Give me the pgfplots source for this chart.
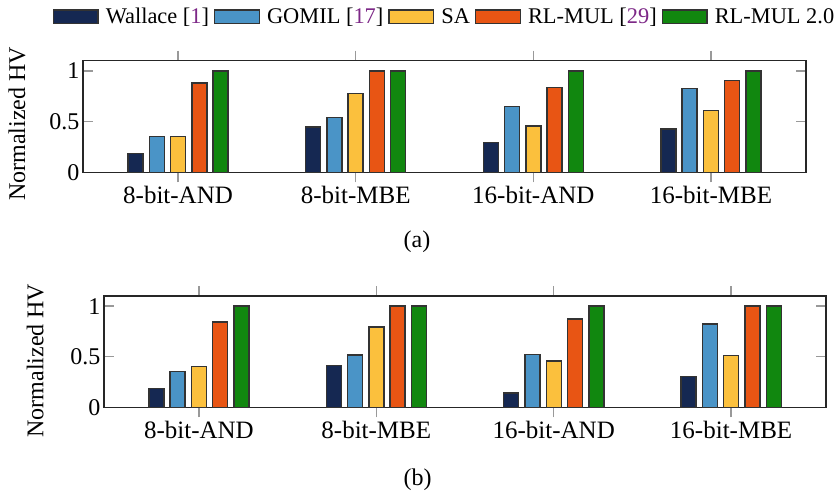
\documentclass[border=0pt]{standalone}
\usepackage{fontspec}
\setmainfont{Liberation Serif}
\usepackage{pgfplots}
\pgfplotsset{compat=1.18}

\definecolor{cWal}{RGB}{21,40,82}
\definecolor{cGom}{RGB}{74,148,199}
\definecolor{cSA}{RGB}{251,192,61}
\definecolor{cRL}{RGB}{232,85,20}
\definecolor{cRLtwo}{RGB}{17,135,15}
\definecolor{citep}{RGB}{125,40,135}

\pgfplotsset{
  hvbars/.style={
    ybar=6.3pt, bar width=15pt,
    scale only axis,
    xmin=-0.535, xmax=3.535, ymin=0, ymax=1.1,
    xtick={0,1,2,3},
    xticklabels={8-bit-AND,8-bit-MBE,16-bit-AND,16-bit-MBE},
    ytick={0,0.5,1},
    major tick length=10pt,
    tick style={gray!80, line width=1.4pt},
    axis line style={line width=1.4pt, black!85},
    /pgf/number format/assume math mode=true,
    xticklabel style={font=\fontsize{25}{30}\selectfont},
    yticklabel style={font=\fontsize{24}{28}\selectfont},
    ylabel={Normalized HV},
    ylabel style={font=\fontsize{24}{28}\selectfont, anchor=base},
    every axis plot/.append style={draw=black!80, line width=1.4pt},
  },
  legbox/.style={legend image code/.code={\draw[##1] (0pt,-6.8pt) rectangle (44.6pt,6.8pt);}},
}

\begin{document}
\begin{tikzpicture}
\useasboundingbox (0,0) rectangle (837pt,491pt);

% (a)
\begin{axis}[hvbars,
  at={(83pt,318.7pt)}, anchor=south west, width=723pt, height=111.6pt,
  ylabel style={at={(axis description cs:-0.0802,0.433)}},
  legend columns=-1,
  legend style={at={(axis description cs:0.5,1)}, anchor=center, yshift=44pt,
    draw=none, fill=none, inner sep=0pt,
    font=\fontsize{22.4}{26}\selectfont,
    /tikz/every odd column/.append style={column sep=5pt},
    /tikz/every even column/.append style={column sep=3pt}},
]
\addplot[fill=cWal, legbox] coordinates {(0,0.183) (1,0.446) (2,0.291) (3,0.426)};
\addplot[fill=cGom, legbox] coordinates {(0,0.354) (1,0.541) (2,0.649) (3,0.827)};
\addplot[fill=cSA, legbox] coordinates {(0,0.354) (1,0.777) (2,0.456) (3,0.610)};
\addplot[fill=cRL, legbox] coordinates {(0,0.879) (1,1.0) (2,0.836) (3,0.905)};
\addplot[fill=cRLtwo, legbox] coordinates {(0,1.0) (1,1.0) (2,1.0) (3,1.0)};
\legend{Wallace [\textcolor{citep}{1}], GOMIL [\textcolor{citep}{17}], SA,
  RL-MUL [\textcolor{citep}{29}], RL-MUL 2.0}
\end{axis}

% (b)
\begin{axis}[hvbars,
  at={(104pt,83.7pt)}, anchor=south west, width=722pt, height=111.3pt,
  ylabel style={at={(axis description cs:-0.0841,0.419)}},
]
\addplot[fill=cWal] coordinates {(0,0.188) (1,0.416) (2,0.142) (3,0.307)};
\addplot[fill=cGom] coordinates {(0,0.356) (1,0.518) (2,0.521) (3,0.825)};
\addplot[fill=cSA] coordinates {(0,0.406) (1,0.795) (2,0.458) (3,0.511)};
\addplot[fill=cRL] coordinates {(0,0.845) (1,1.0) (2,0.874) (3,1.0)};
\addplot[fill=cRLtwo] coordinates {(0,1.0) (1,1.0) (2,1.0) (3,1.0)};
\end{axis}

\node[font=\fontsize{24}{28}\selectfont, anchor=base] at (417pt,243.6pt) {(a)};
\node[font=\fontsize{24}{28}\selectfont, anchor=base] at (417.5pt,5.5pt) {(b)};
\end{tikzpicture}
\end{document}
